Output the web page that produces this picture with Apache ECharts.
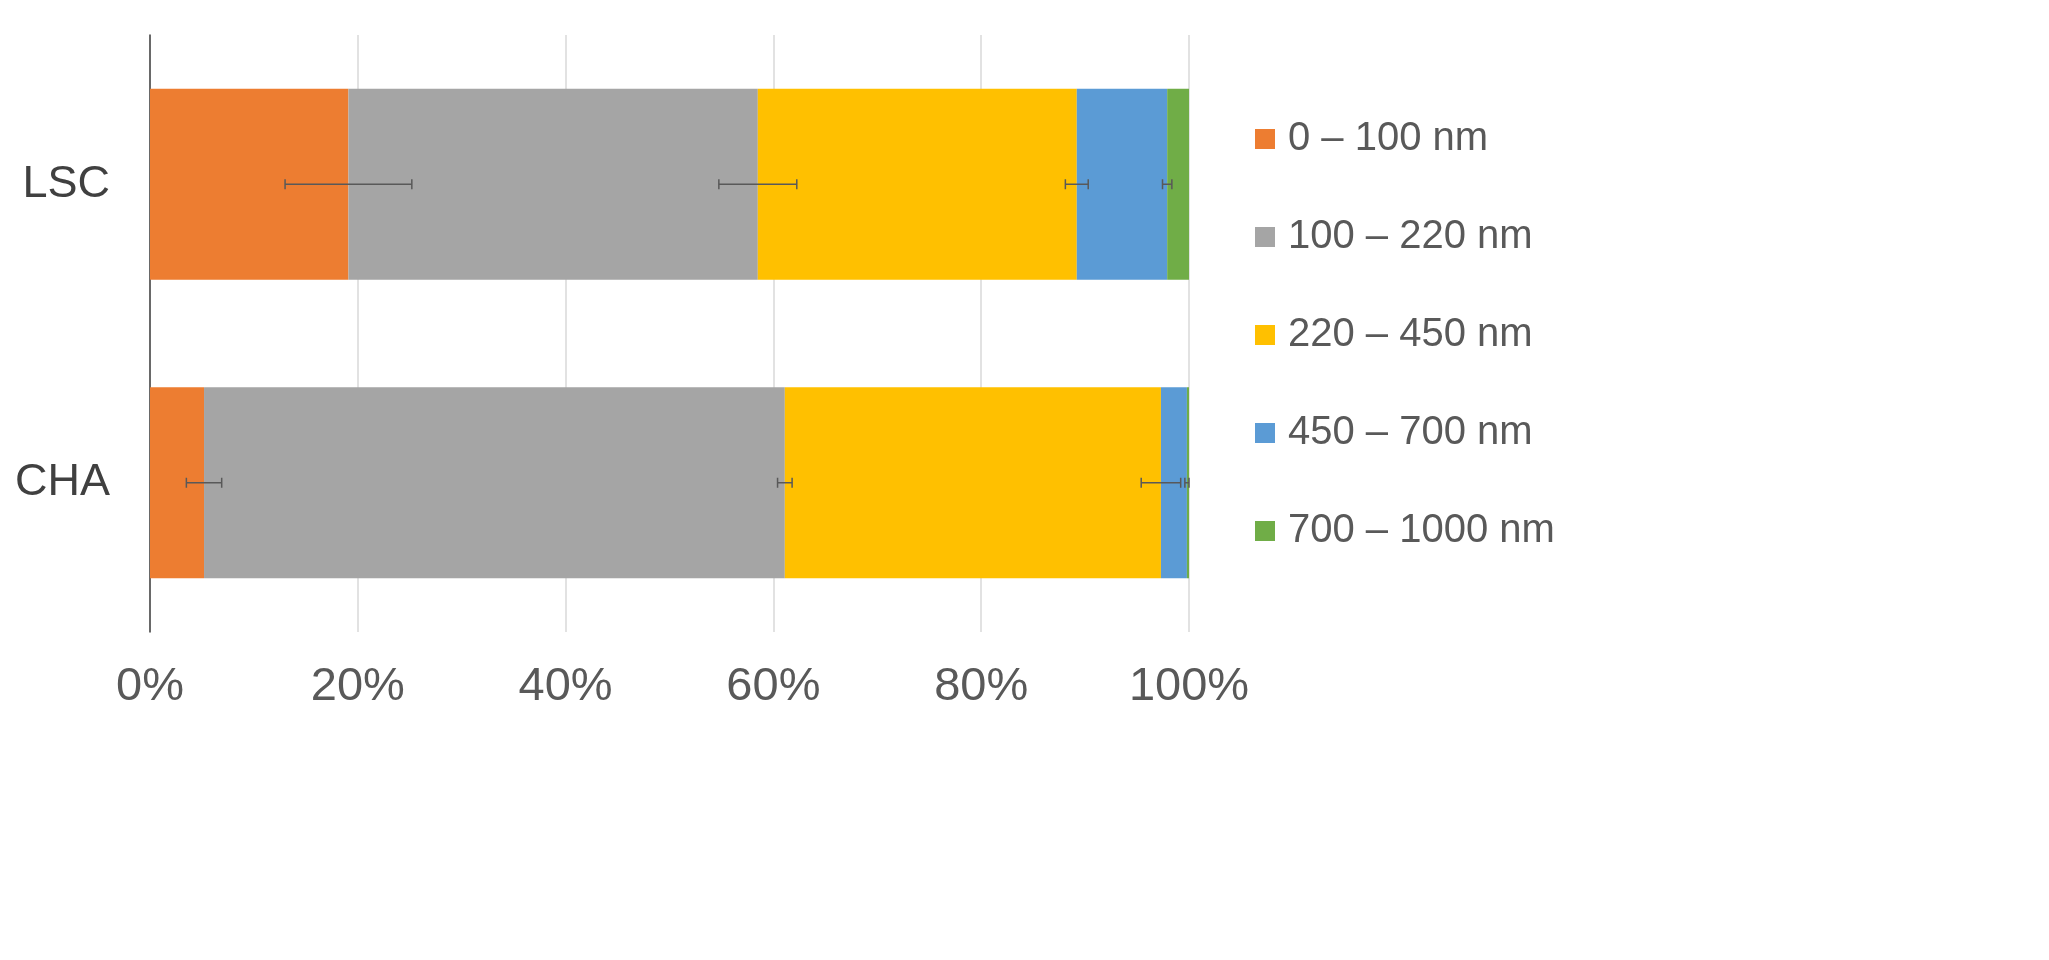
<!DOCTYPE html>
<html>
<head>
<meta charset="UTF-8">
<script src="https://cdn.jsdelivr.net/npm/echarts@6/dist/echarts.min.js"></script>
<style>html,body{margin:0;background:#fff}</style>
</head>
<body>
<div id="chart" style="width:2049px;height:960px;"></div>
<script>
var categories = ['CHA', 'LSC'];
var seriesNames = ['0 – 100 nm', '100 – 220 nm', '220 – 450 nm', '450 – 700 nm', '700 – 1000 nm'];
var colors = ['#ed7d31', '#a5a5a5', '#ffc000', '#5b9bd5', '#70ad47'];
// values per series: [CHA, LSC]
var s0 = [5.2, 19.1];
var s1 = [55.9, 39.4];
var s2 = [36.2, 30.7];
var s3 = [2.5, 8.7];
var s4 = [0.2, 2.1];
// error half-widths per series: [CHA, LSC]
var e0 = [1.7, 6.1];
var e1 = [0.7, 3.75];
var e2 = [1.9, 1.1];
var e3 = [0.2, 0.45];
var e4 = [0, 0];
var values = [s0, s1, s2, s3, s4];
var errors = [e0, e1, e2, e3, e4];

var errData = [];
categories.forEach(function (c, ci) {
    var cum = 0;
    for (var k = 0; k < values.length; k++) {
        cum += values[k][ci];
        if (errors[k][ci] > 0) errData.push([ci, cum, errors[k][ci]]);
    }
});

var series = seriesNames.map(function (n, k) {
    return {
        name: n, type: 'bar', stack: 'a', barWidth: '64%',
        itemStyle: {color: colors[k]},
        data: values[k]
    };
});
series.push({
    type: 'custom', z: 10,
    renderItem: function (params, api) {
        var ci = api.value(0), c = api.value(1), e = api.value(2);
        var p1 = api.coord([c - e, ci]), p2 = api.coord([c + e, ci]);
        var h = 5, st = {stroke: '#595959', lineWidth: 1.5};
        return {type: 'group', children: [
            {type: 'line', shape: {x1: p1[0], y1: p1[1], x2: p2[0], y2: p2[1]}, style: st},
            {type: 'line', shape: {x1: p1[0], y1: p1[1] - h, x2: p1[0], y2: p1[1] + h}, style: st},
            {type: 'line', shape: {x1: p2[0], y1: p2[1] - h, x2: p2[0], y2: p2[1] + h}, style: st}
        ]};
    },
    encode: {x: 1, y: 0},
    data: errData
});

var chart = echarts.init(document.getElementById('chart'));
chart.setOption({
    animation: false,
    grid: {left: 150, right: 860, top: 35, bottom: 328},
    legend: {
        data: seriesNames, orient: 'vertical', left: 1250, top: 114,
        itemWidth: 20, itemHeight: 20, itemGap: 58, icon: 'rect',
        textStyle: {fontSize: 40, color: '#595959', padding: [0, 0, 0, 8], fontFamily: 'Liberation Sans, Arial'}
    },
    xAxis: {
        type: 'value', min: 0, max: 100, interval: 20,
        axisLabel: {formatter: '{value}%', fontSize: 47, color: '#595959', margin: 32, fontFamily: 'Liberation Sans, Arial'},
        axisLine: {show: false}, axisTick: {show: false},
        splitLine: {lineStyle: {color: '#d9d9d9', width: 1.5}}
    },
    yAxis: {
        type: 'category', data: categories,
        axisLabel: {fontSize: 45, color: '#404040', margin: 40, fontFamily: 'Liberation Sans, Arial'},
        axisLine: {lineStyle: {color: '#404040', width: 1.5}}, axisTick: {show: false}
    },
    series: series
});
</script>
</body>
</html>
